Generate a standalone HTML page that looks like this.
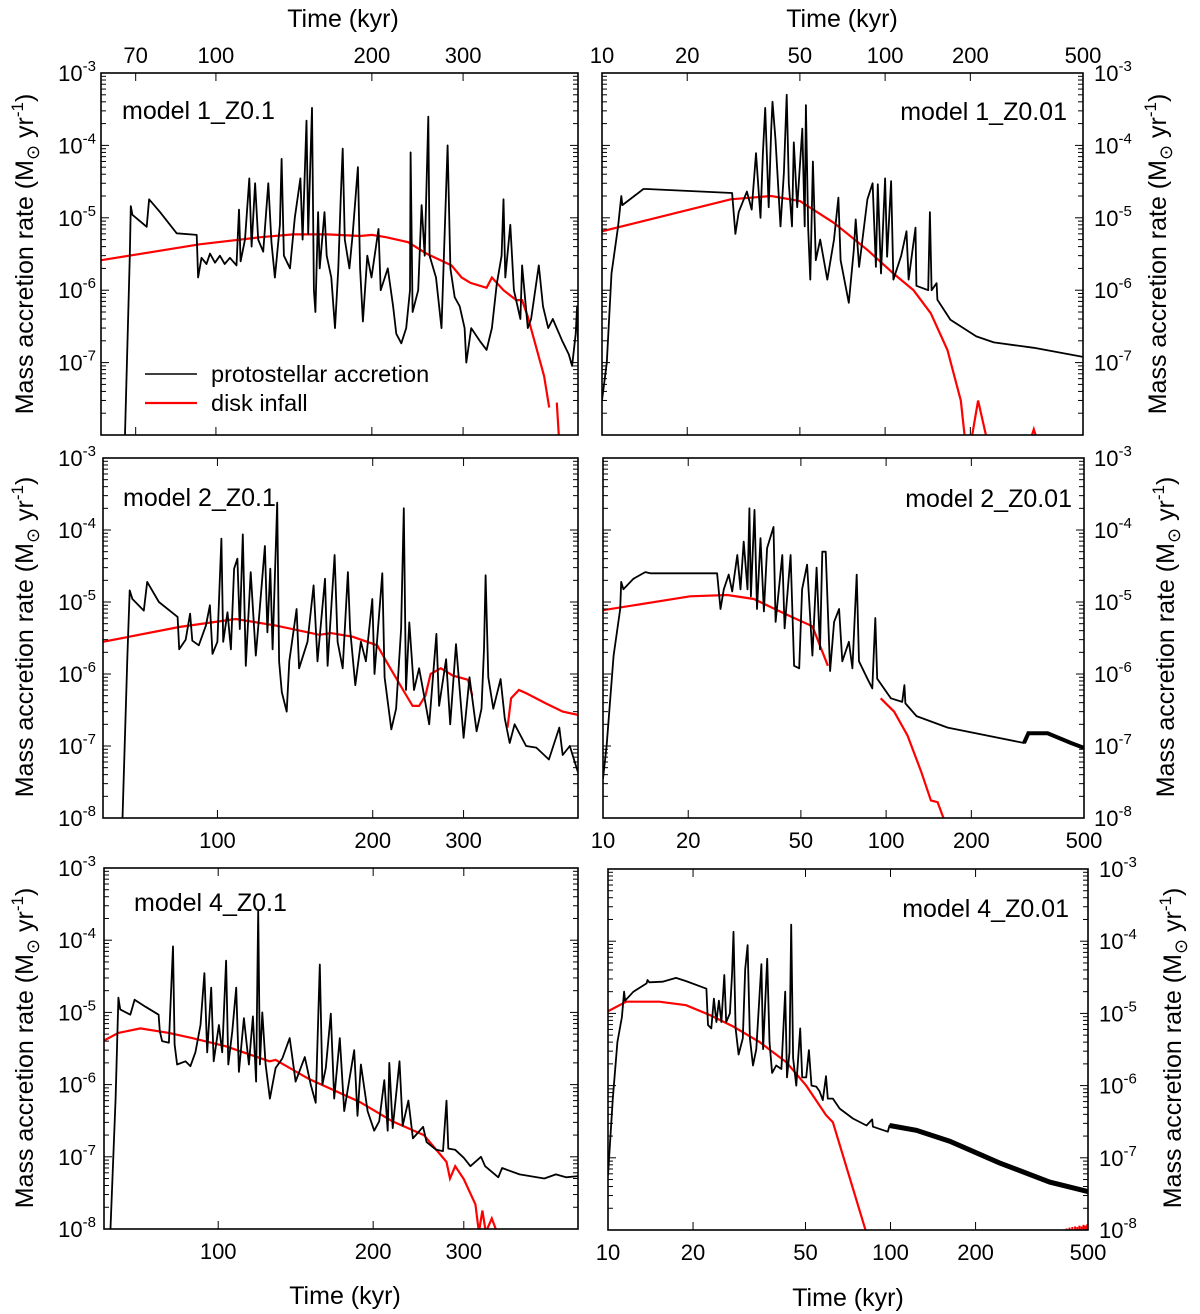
<!DOCTYPE html>
<html><head><meta charset="utf-8"><style>
html,body{margin:0;padding:0;background:#fff;}
svg{display:block;font-family:"Liberation Sans",Arial,sans-serif;}
</style></head><body>
<svg id="fig" width="1200" height="1314" viewBox="0 0 1200 1314" xmlns="http://www.w3.org/2000/svg"></svg>
<script>
// ---------------- data (time in kyr, rate in Msun/yr) ----------------
const p1BlackT=[66.7,68.2,68.5,69,73.5,74.3,78,84,91.8,92.4,93.8,95.9,97.4,99.6,101.8,104,106.4,109.6,110.8,111.6,113.8,116,117.2,119,120.7,123.4,126.2,128,130,132.9,133.9,135.3,139,142,145.6,147,149.6,150.7,153.3,154.6,155.6,157.5,158.6,162,163.6,167,169.8,172.3,174.2,175.7,177.3,181,183.7,188,189.8,192.2,196,199.7,206,208,214.7,219.8,223,228,233,237,237.6,239.7,245.7,249.5,253,257,258.5,266,272.6,280,283.5,289,295.5,302,304.3,311,323,333,341,348.4,356,359,362,370,376,387,390,400,406,420,428,438,447,466,480,487,495,498,500];
const p1BlackV=[8e-9,3e-6,1.45e-5,1.1e-5,7.5e-6,1.8e-5,1.2e-5,6.1e-6,5.8e-6,1.5e-6,2.8e-6,2.3e-6,3.2e-6,2.4e-6,3e-6,2.3e-6,2.8e-6,2.2e-6,1.3e-5,2.5e-6,5e-6,3.5e-5,4e-6,3e-5,5e-6,3.4e-6,3e-5,4.5e-6,1.5e-6,8e-6,6.5e-5,3e-6,2e-6,1e-5,3.5e-5,5e-6,2.2e-4,6e-6,3.3e-4,1e-6,5e-7,1.2e-5,2e-6,1.2e-5,3e-6,1.5e-6,3e-7,2e-6,2e-5,9e-5,5e-6,2e-6,6e-6,5e-5,2e-6,3.7e-7,3e-6,1.5e-6,7e-6,1e-6,2e-6,6e-7,2.5e-7,1.85e-7,3e-7,1e-6,8e-5,5e-7,1e-6,1.5e-5,3e-6,2.5e-4,3e-6,1.5e-6,3e-7,1e-4,2e-6,8e-7,6e-7,3e-7,1e-7,3e-7,2e-7,1.5e-7,3e-7,1.2e-6,3e-6,1.8e-5,1.5e-6,8e-6,1e-6,4e-7,2.2e-6,3e-7,4e-7,2.2e-6,6e-7,3e-7,4e-7,2e-7,1.3e-7,9e-8,2.5e-7,6e-7,2e-7];
const p1RedT=[60,68,93,122,141,164,190,200,213,235,255,285,298,310,333,341,359,380,390,400,430,440,446,455,460];
const p1RedV=[2.6e-6,3e-6,4.3e-6,5.4e-6,5.9e-6,5.9e-6,5.6e-6,5.8e-6,5.4e-6,4.6e-6,3.2e-6,2.2e-6,1.5e-6,1.26e-6,1.08e-6,1.5e-6,1e-6,7.3e-7,7.3e-7,4.3e-7,6.5e-8,2.4e-8,null,2.8e-8,8e-9];

const p2BlackT=[10,10.4,10.8,11.4,11.7,11.8,13,14,14.4,28.8,29.6,30.4,32.5,33.8,35,36.3,37,37.7,38.8,39.6,40,41,42.7,43.9,44.9,45.7,46.9,47.6,48.9,51,52,52.5,53.5,54.4,55.6,56.9,59,62.5,66,68.4,69.6,74.4,77.5,78.7,80.9,86.6,90.3,92.8,94.2,96.7,100,101.6,105,107,114,119,121,128,129,142,144,146,152,153,170,210,242,335,500];
const p2BlackV=[3e-8,1e-7,1.7e-6,7.6e-6,2e-5,1.5e-5,2e-5,2.5e-5,2.5e-5,2.2e-5,6e-6,1.2e-5,2.3e-5,1.3e-5,7.8e-5,1e-5,7.8e-5,3.3e-4,1.4e-5,1.65e-4,4e-4,1.2e-4,7.6e-6,4.2e-5,5e-4,3e-5,7.6e-6,1.1e-4,1.4e-5,1.7e-4,7.6e-6,3.6e-4,7e-6,1.4e-6,6e-5,2.6e-6,5e-6,1.4e-6,5e-6,1.9e-5,2.6e-6,6.7e-7,3.6e-6,9.5e-6,2.1e-6,1.8e-5,3e-5,2.1e-6,2.9e-5,1.7e-6,3.5e-5,2.9e-6,3.2e-5,1.4e-6,3e-6,6.5e-6,1.4e-6,7.3e-6,1.15e-6,1e-6,1.2e-5,1e-6,1.25e-6,7.4e-7,3.9e-7,2.3e-7,1.9e-7,1.6e-7,1.2e-7];
const p2RedT=[10,28.5,39.6,50,66,86.6,107,126,145,166,185,192,195,201,213,230,235,324,335,346];
const p2RedV=[6.5e-6,1.8e-5,2e-5,1.7e-5,8.5e-6,3.6e-6,1.7e-6,1e-6,4.8e-7,1.5e-7,3e-8,8e-9,null,8e-9,3e-8,8e-9,null,8e-9,1.2e-8,8e-9];

const p3BlackT=[65.4,66.9,67.6,68.4,72,73.1,77,83.7,84.3,86.8,88.5,89.4,92,95,96.7,97.8,100,101.8,102.6,104.6,106.2,107.7,109.3,110.5,112,113.5,116,118.7,120.5,123.6,125,126.6,127.9,130.6,131.7,133.3,136.2,137.8,142.4,144,149.5,153.6,156.3,161.6,163.5,168.7,171,174.9,179,180.8,185,189.7,194,199.6,201.6,208.7,210.9,217.3,222,227,229.8,232,235.5,240.5,246,251.5,257.3,265.8,269,277.5,282.6,290,300,308,318,325,328.6,331,335,342.6,354,360.7,368.6,376.7,396.6,415,439,460,467,482,500];
const p3BlackV=[8e-9,1.8e-6,1.45e-5,1.1e-5,7.6e-6,1.9e-5,1e-5,6.2e-6,2.2e-6,3e-6,6.9e-6,2.9e-6,2.5e-6,4.7e-6,9e-6,1.9e-6,2.8e-6,7.6e-5,2.8e-6,7.2e-6,2.2e-6,2.9e-5,4e-5,4.2e-6,8.7e-5,1.3e-6,2.6e-5,1.8e-6,6.5e-6,6e-5,3.8e-6,2.9e-5,2.2e-6,2.4e-4,1.5e-6,5.6e-7,3e-7,1.5e-6,8e-6,1.2e-6,2.8e-6,1.7e-5,1.5e-6,2.1e-5,1.3e-6,4.5e-5,2.8e-6,1.2e-6,2.6e-5,4.2e-6,7e-7,2.8e-6,1.5e-6,1.1e-5,1e-6,2.5e-5,9e-7,1.7e-7,3.3e-7,4.2e-6,2e-4,6e-7,5.2e-6,6e-7,1.2e-6,5e-7,2e-7,3.6e-6,3.6e-7,1.6e-6,2e-7,2.6e-6,1.3e-7,9e-7,1.6e-7,3.3e-7,2.2e-6,2.35e-5,9e-7,3.3e-7,8.5e-7,2.4e-7,1.1e-7,2e-7,1e-7,9.5e-8,6.5e-8,1.8e-7,7.5e-8,1e-7,4.3e-8];
const p3RedT=[60,84.3,108.5,129.8,157.6,166,182.7,204,215,229,239,246,253,259,271,286,306,312,340,365,371,384,397,433,467,500];
const p3RedV=[2.8e-6,4.5e-6,5.8e-6,4.7e-6,3.5e-6,3.7e-6,3.3e-6,2.5e-6,1.3e-6,6e-7,3.6e-7,3.6e-7,5e-7,1e-6,1.2e-6,9.5e-7,8.3e-7,5e-7,null,1.8e-7,4.6e-7,6e-7,5.4e-7,3.9e-7,3e-7,2.7e-7];

const p4BlackT=[10,10.3,10.9,11.5,11.6,11.8,12.8,14.1,14.7,25.3,26,26.7,27.8,28.6,29.8,30.6,31.4,32.4,32.9,33.3,34.3,35,36,37,38,40,40.7,43,43.8,46,47.3,49.3,50.5,52.6,54.9,56.8,58.4,59.5,61.2,63.4,65.5,68.2,70,73.9,76,78.7,80.2,85.9,89.4,91.6,93,104,114,116,117,128,165,307,318,372,450,500];
const p4BlackV=[3.5e-8,1e-7,1.8e-6,8e-6,1.9e-5,1.5e-5,2.1e-5,2.6e-5,2.5e-5,2.5e-5,8e-6,1.5e-5,2.4e-5,1.4e-5,4.5e-5,1.5e-5,6.9e-5,1.5e-5,2e-4,1.2e-5,1.9e-4,8e-6,7.7e-5,7.4e-6,5.6e-5,1.1e-4,5.3e-6,4.5e-5,4.3e-6,4.5e-5,1.3e-6,1.2e-6,1.5e-5,3.3e-5,1.8e-6,3e-5,2.2e-6,5e-5,5e-5,1.1e-6,5.3e-6,8e-6,1.5e-6,2.8e-6,1.2e-6,2.4e-5,1.5e-6,8.6e-7,6.3e-7,6e-6,8.6e-7,4.6e-7,4.1e-7,7e-7,3.9e-7,2.6e-7,1.8e-7,1.1e-7,1.5e-7,1.5e-7,1.1e-7,9.4e-8];
const p4RedT=[10,20.3,27.5,34.1,41.3,47.3,54.9,62.3,80,95.7,106.7,119,133,144,152,161];
const p4RedV=[7.7e-6,1.2e-5,1.25e-5,1.1e-5,7.7e-6,6e-6,4.6e-6,1.3e-6,null,4.6e-7,3e-7,1.4e-7,4.4e-8,1.75e-8,1.66e-8,9e-9];

const p5BlackT=[61.7,63.2,64,64.5,67.5,68.8,72.2,76.6,77,77.8,80.2,81.7,82.3,83.2,86.4,88.3,90.3,92.4,94,95.2,96.9,98,100.3,101.8,103.6,104.6,106.5,108.4,109.7,112.2,114.7,116.8,118.5,119.6,120.5,121.8,123.6,126,129.3,133.2,137.7,141.4,147.3,151.3,154.7,157.5,159.4,161.8,165.5,168,172.3,175.7,183.7,186.5,189.3,195.1,200.9,205.5,210.2,213.4,215,218.3,225,228.3,234.2,238.9,250.1,254,265.1,273.3,277.7,279.9,288.7,300,309,324,330,350,356,385,430,453,474,500];
const p5BlackV=[8e-9,6.4e-7,1.6e-5,1.1e-5,9.3e-6,1.5e-5,1.2e-5,9.3e-6,5.5e-6,4e-6,3.8e-6,8.2e-5,3.6e-6,1.9e-6,2.1e-6,1.8e-6,2.8e-6,6.7e-6,3.5e-5,2.8e-6,2.2e-5,2.1e-6,6.7e-6,2.8e-6,5.2e-5,1.9e-6,5.5e-6,2.2e-5,1.5e-6,8.3e-6,1.9e-6,8.8e-6,1.1e-6,2.6e-4,1.9e-6,1e-5,1.9e-6,6.4e-7,1.7e-6,2.3e-6,4.4e-6,1.1e-6,2.4e-6,9.9e-7,5.6e-7,4.6e-5,1e-6,1.7e-6,9.6e-6,6.4e-7,4.4e-6,4.3e-7,3e-6,3.7e-7,1.9e-6,4.3e-7,2.3e-7,3.1e-7,1.15e-6,2.3e-7,2e-6,2.5e-7,2.1e-6,2.7e-7,6e-7,1.8e-7,2.6e-7,1.6e-7,1.25e-7,1.2e-7,6e-7,1.3e-7,1.25e-7,9.7e-8,7.4e-8,1e-7,7.4e-8,5.2e-8,7e-8,5.7e-8,5e-8,5.7e-8,5.2e-8,5.4e-8];
const p5RedT=[59.7,64,70.6,80.2,89,103.3,123.6,125.8,129.3,150,188,218,251,277.7,282,288.7,300,316,321,326,331,340,348];
const p5RedV=[4e-6,5.2e-6,6e-6,5.2e-6,4.4e-6,3.4e-6,2.2e-6,2.1e-6,2.2e-6,1.2e-6,5.8e-7,3.1e-7,2e-7,8.5e-8,5e-8,7.4e-8,4.9e-8,2.2e-8,9e-9,1.8e-8,9e-9,1.4e-8,9e-9];

const p6BlackT=[10,10.4,10.8,11.2,11.4,11.5,12.3,13.7,13.8,14,15.6,17.4,18.9,22.3,22.6,23.2,23.7,24.2,24.7,25.2,25.8,26.2,27,27.5,27.8,28.3,29,30,30.6,31.2,31.8,32.6,33.5,34.9,35.4,36.6,37.3,38.1,39.4,41.1,42.4,43,43.9,44.5,45.2,46.4,47.9,48.7,50.3,51.4,52.5,54.6,56.1,57.6,59.1,60,62.5,66.1,73.6,82.2,86.1,86.6,97.8,99.2,123.4,162,243,366,500];
const p6BlackV=[5.7e-8,6.6e-7,4e-6,8.9e-6,2e-5,1.5e-5,2e-5,2.6e-5,2.9e-5,2.7e-5,2.75e-5,3.1e-5,2.8e-5,2.2e-5,6.9e-6,6.2e-6,1.6e-5,7.6e-6,1.5e-5,7.6e-6,3.4e-5,7.6e-6,1e-5,3.6e-5,1.35e-4,6.2e-6,2.7e-6,4.5e-6,4.1e-5,8.8e-5,4.5e-6,1.9e-6,3.2e-6,4.8e-5,3.2e-6,5.7e-5,4e-6,1.5e-6,1.9e-6,1.7e-6,2e-5,1.3e-6,2.9e-6,1.7e-4,2.4e-6,1e-6,6.2e-6,1.3e-6,1.3e-6,3.1e-6,1e-6,9.7e-7,8.3e-7,6.3e-7,1.35e-6,6.6e-7,6.6e-7,4.8e-7,3.5e-7,2.8e-7,3.4e-7,2.7e-7,2.3e-7,2.8e-7,2.4e-7,1.7e-7,8.5e-8,4.6e-8,3.4e-8];
const p6RedT=[10,11.6,15.2,18.9,22.9,27.7,34.4,42.8,50.3,59.1,62.5,82.2];
const p6RedV=[1.07e-5,1.45e-5,1.45e-5,1.3e-5,9.5e-6,6.6e-6,4e-6,2.1e-6,1e-6,3.9e-7,3.1e-7,9e-9];
const p6RedSpikeT=[420,430,440,450,458,466,474,482,490,497];
const p6RedSpikeV=[1.05e-8,1.08e-8,1.1e-8,1.12e-8,1.1e-8,1.15e-8,1.12e-8,1.18e-8,1.15e-8,1.2e-8];

const leftTicks=[70,100,200,300];
const rightTicks=[10,20,50,100,200,500];
const yExps=[-3,-4,-5,-6,-7,-8];

// ---------------- drawing ----------------
const NS='http://www.w3.org/2000/svg';
const svg=document.getElementById('fig');
function mk(tag,attrs,parent){const e=document.createElementNS(NS,tag);for(const k in attrs)e.setAttribute(k,attrs[k]);(parent||svg).appendChild(e);return e;}
function powLabel(parent,x,y,exp,anchor){
  const t=mk('text',{x:x,y:y,'font-size':22,'text-anchor':anchor,fill:'#000'},parent);
  t.appendChild(document.createTextNode('10'));
  const s=mk('tspan',{dy:-10,'font-size':15},t);s.textContent=String(exp);
  return t;
}
function yTitle(cx,cy,name){
  const t=mk('text',{x:0,y:0,'font-size':25,'text-anchor':'middle',transform:`translate(${cx},${cy}) rotate(-90)`,fill:'#000'});
  
  
  t.appendChild(document.createTextNode('Mass accretion rate (M'));
  const a=mk('tspan',{dy:6,'font-size':18},t);a.textContent='\u2299';
  const b=mk('tspan',{dy:-6},t);b.textContent=' yr';
  const c=mk('tspan',{dy:-10,'font-size':17},t);c.textContent='-1';
  const d=mk('tspan',{dy:10},t);d.textContent=')';
}
function panel(cfg){
  const g=mk('g',{});
  
  
  const {x0,x1,y0,y1,tmin,tmax}=cfg;
  const xs=t=>x0+(Math.log10(t)-Math.log10(tmin))/(Math.log10(tmax)-Math.log10(tmin))*(x1-x0);
  const ys=v=>y0+(-3-Math.log10(v))/5*(y1-y0);
  const cid='clip-'+cfg.name;
  const cp=mk('clipPath',{id:cid},g);mk('rect',{x:x0,y:y0,width:x1-x0,height:y1-y0},cp);
  function pathD(T,V){let d='',pen=false;for(let i=0;i<T.length;i++){if(V[i]==null){pen=false;continue;}d+=(pen?'L':'M')+xs(T[i]).toFixed(1)+' '+ys(V[i]).toFixed(1);pen=true;}return d;}
  const red=mk('path',{d:pathD(cfg.rT,cfg.rV),fill:'none',stroke:'#ff0000','stroke-width':2.2,'clip-path':`url(#${cid})`},g);
  
  
  const blk=mk('path',{d:pathD(cfg.bT,cfg.bV),fill:'none',stroke:'#000','stroke-width':1.8,'stroke-linejoin':'round','clip-path':`url(#${cid})`},g);
  
  
  if(cfg.thick){const T=[],V=[];cfg.bT.forEach((t,i)=>{if(t>=cfg.thick){T.push(t);V.push(cfg.bV[i]);}});
    const th=mk('path',{d:pathD(T,V),fill:'none',stroke:'#000','stroke-width':cfg.thickW||5,'clip-path':`url(#${cid})`},g);
    
    }
  if(cfg.sT){cfg.sT.forEach((t,i)=>{const l=mk('line',{x1:xs(t),x2:xs(t),y1:y1,y2:ys(cfg.sV[i]),stroke:'#ff0000','stroke-width':2},g);
    
    });}
  const fr=mk('rect',{x:x0,y:y0,width:x1-x0,height:y1-y0,fill:'none',stroke:'#000','stroke-width':1.6},g);
  
  
  for(let e=-8;e<=-3;e++){
    for(let m=1;m<=9;m++){
      if(e==-3&&m>1)break;
      const y=ys(m*Math.pow(10,e));const L=m==1?8:5;
      mk('line',{x1:x0,x2:x0+L,y1:y,y2:y,stroke:'#000','stroke-width':1},g);
      mk('line',{x1:x1,x2:x1-L,y1:y,y2:y,stroke:'#000','stroke-width':1},g);
    }
  }
  cfg.ticks.forEach(t=>{const x=xs(t);
    mk('line',{x1:x,x2:x,y1:y0,y2:y0+8,stroke:'#000','stroke-width':1},g);
    mk('line',{x1:x,x2:x,y1:y1,y2:y1-8,stroke:'#000','stroke-width':1},g);
    if(cfg.tickLabY){const tl=mk('text',{x:x,y:cfg.tickLabY,'font-size':22,'text-anchor':'middle',fill:'#000'},g);
      
      
      tl.textContent=String(t);}
  });
  cfg.yLabs.forEach(e=>{const y=ys(Math.pow(10,e))+8;
    const tl=powLabel(g,cfg.yLabX,y,e,cfg.yLabAnchor);
    
    });
  const ml=mk('text',{x:cfg.mx,y:cfg.my,'font-size':25,'text-anchor':cfg.manchor,fill:'#000'},g);
  
  
  ml.textContent=cfg.model;
}
const LT=60,RT=10,TMAX=500;
panel({name:'panel-model1-z01',x0:101,x1:578,y0:73,y1:435,tmin:LT,tmax:TMAX,bT:p1BlackT,bV:p1BlackV,rT:p1RedT,rV:p1RedV,ticks:leftTicks,tickLabY:63,yLabs:[-3,-4,-5,-6,-7],yLabX:96,yLabAnchor:'end',model:'model 1_Z0.1',mx:122,my:119,manchor:'start'});
panel({name:'panel-model1-z001',x0:602,x1:1083,y0:73,y1:435,tmin:RT,tmax:TMAX,bT:p2BlackT,bV:p2BlackV,rT:p2RedT,rV:p2RedV,ticks:rightTicks,tickLabY:63,yLabs:[-3,-4,-5,-6,-7],yLabX:1094,yLabAnchor:'start',model:'model 1_Z0.01',mx:1067,my:120,manchor:'end'});
panel({name:'panel-model2-z01',x0:103,x1:578,y0:458,y1:818,tmin:LT,tmax:TMAX,bT:p3BlackT,bV:p3BlackV,rT:p3RedT,rV:p3RedV,ticks:[100,200,300],tickLabY:848,yLabs:[-3,-4,-5,-6,-7,-8],yLabX:96,yLabAnchor:'end',model:'model 2_Z0.1',mx:123,my:506,manchor:'start'});
panel({name:'panel-model2-z001',x0:603,x1:1084,y0:458,y1:818,tmin:RT,tmax:TMAX,bT:p4BlackT,bV:p4BlackV,rT:p4RedT,rV:p4RedV,thick:307,thickW:4,ticks:rightTicks,tickLabY:848,yLabs:[-3,-4,-5,-6,-7,-8],yLabX:1094,yLabAnchor:'start',model:'model 2_Z0.01',mx:1072,my:507,manchor:'end'});
panel({name:'panel-model4-z01',x0:104,x1:578,y0:868,y1:1229,tmin:LT,tmax:TMAX,bT:p5BlackT,bV:p5BlackV,rT:p5RedT,rV:p5RedV,ticks:[100,200,300],tickLabY:1259,yLabs:[-3,-4,-5,-6,-7,-8],yLabX:96,yLabAnchor:'end',model:'model 4_Z0.1',mx:134,my:911,manchor:'start'});
panel({name:'panel-model4-z001',x0:608,x1:1088,y0:869,y1:1230,tmin:RT,tmax:TMAX,bT:p6BlackT,bV:p6BlackV,rT:p6RedT,rV:p6RedV,sT:p6RedSpikeT,sV:p6RedSpikeV,thick:99,ticks:rightTicks,tickLabY:1260,yLabs:[-3,-4,-5,-6,-7,-8],yLabX:1099,yLabAnchor:'start',model:'model 4_Z0.01',mx:1069,my:917,manchor:'end'});

[[343,27,'x-axis-title-top-left'],[842,27,'x-axis-title-top-right'],[345,1304,'x-axis-title-bottom-left'],[848,1306,'x-axis-title-bottom-right']].forEach(a=>{
  const t=mk('text',{x:a[0],y:a[1],'font-size':25,'text-anchor':'middle',fill:'#000'});
  
  
  t.textContent='Time (kyr)';
});
yTitle(33,254,'y-axis-title-left-1');
yTitle(33,637,'y-axis-title-left-2');
yTitle(33,1048,'y-axis-title-left-3');
yTitle(1166,254,'y-axis-title-right-1');
yTitle(1174,637,'y-axis-title-right-2');
yTitle(1181,1048,'y-axis-title-right-3');

const lg=mk('g',{});


const l1=mk('line',{x1:145,x2:197,y1:374,y2:374,stroke:'#000','stroke-width':1.5},lg);


const t1=mk('text',{x:211,y:382,'font-size':23.5,fill:'#000'},lg);


t1.textContent='protostellar accretion';
const l2=mk('line',{x1:145,x2:197,y1:403,y2:403,stroke:'#ff0000','stroke-width':2.2},lg);


const t2=mk('text',{x:211,y:411,'font-size':23.5,fill:'#000'},lg);


t2.textContent='disk infall';
</script>
</body></html>
